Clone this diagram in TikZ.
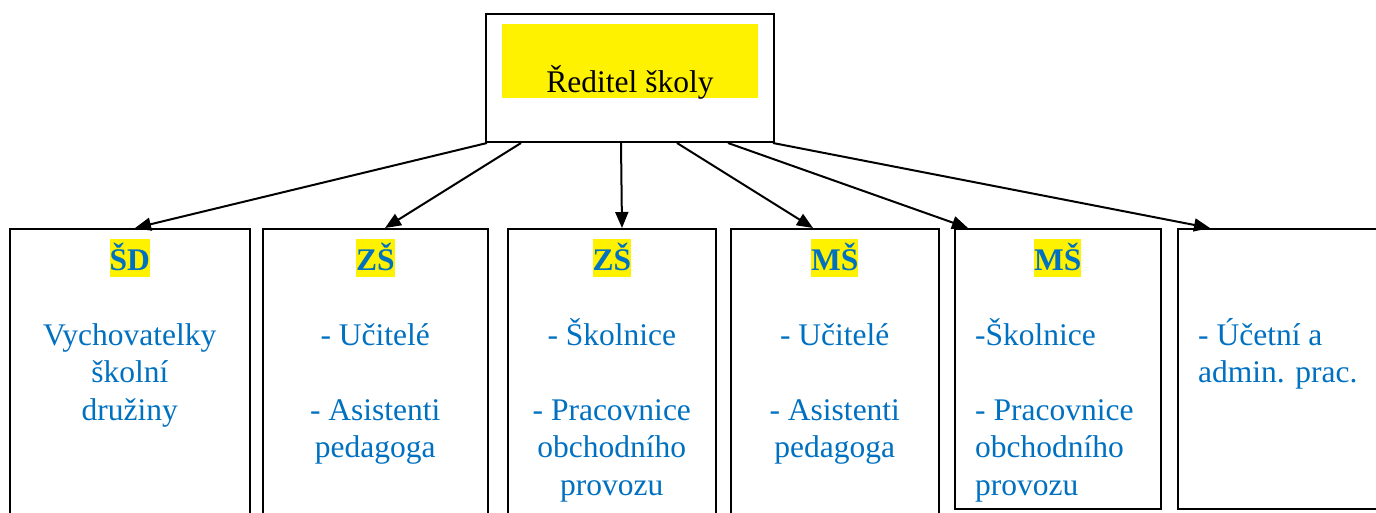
\documentclass[tikz,border=0pt]{standalone}
\usepackage{fontspec}
\setmainfont{Liberation Serif}
\usetikzlibrary{arrows.meta}
\definecolor{wordblue}{HTML}{0070C0}
\newcommand{\lineup}{\rule{0pt}{36pt}}
\begin{document}
\begin{tikzpicture}[x=1pt,y=-1pt,
	font=\fontsize{31.5pt}{37.5pt}\selectfont,
	unitbox/.style={draw,line width=1.6pt,anchor=north west,inner sep=0pt,minimum height=#1},
	unitbox/.default=320pt,
	headtag/.style={fill=yellow,text=wordblue,font=\fontsize{31.5pt}{37.5pt}\selectfont\bfseries,inner sep=0pt,text height=31pt,text depth=7pt,anchor=north},
	staff/.style={text=wordblue,inner sep=0pt,anchor=north,align=#1},
	staff/.default=center,
	arr/.style={line width=2pt,-{Triangle[length=16pt,width=13pt]}}]
	\clip (0,0) rectangle (1376,512);
	\node[draw,line width=2pt,minimum width=288pt,minimum height=128pt] (dir) at (630,78) {};
	\node[fill=yellow,inner sep=0pt,text height=68pt,text depth=6pt,minimum width=256pt,anchor=north] (dirtag) at ([yshift=-11pt]dir.north) {Ředitel školy};
	\node[unitbox,minimum width=240pt] (sd) at (9,228) {};
	\node[unitbox,minimum width=225pt] (zsa) at (262,228) {};
	\node[unitbox,minimum width=208pt] (zsb) at (507,228) {};
	\node[unitbox,minimum width=208pt] (msa) at (730,228) {};
	\node[unitbox=280pt,minimum width=206pt] (msb) at (954,228) {};
	\node[unitbox=280pt,minimum width=230pt] (ucet) at (1177,228) {};
	\node[headtag] (sdtag) at ([yshift=-11pt]sd.north) {ŠD};
	\node[headtag] (zsatag) at ([yshift=-11pt]zsa.north) {ZŠ};
	\node[headtag] (zsbtag) at ([yshift=-11pt]zsb.north) {ZŠ};
	\node[headtag] (msatag) at ([yshift=-11pt]msa.north) {MŠ};
	\node[headtag] (msbtag) at ([yshift=-11pt]msb.north) {MŠ};
	\node[staff] (sdlist) at ([yshift=-81pt]sd.north) {\lineup Vychovatelky\\školní\\družiny};
	\node[staff] (zsalist) at ([yshift=-81pt]zsa.north) {\lineup- Učitelé\\[37.5pt]- Asistenti\\pedagoga};
	\node[staff] (zsblist) at ([yshift=-81pt]zsb.north) {\lineup- Školnice\\[37.5pt]- Pracovnice\\obchodního\\provozu};
	\node[staff] (msalist) at ([yshift=-81pt]msa.north) {\lineup- Učitelé\\[37.5pt]- Asistenti\\pedagoga};
	\node[staff=left,anchor=north west] (msblist) at ([xshift=21pt,yshift=-81pt]msb.north west) {\lineup-Školnice\\[37.5pt]- Pracovnice\\obchodního\\provozu};
	\node[staff=left,anchor=north west] (ucetlist) at ([xshift=21pt,yshift=-81pt]ucet.north west) {\lineup- Účetní a\\admin. prac.};
	\foreach \s/\n/\e in {2pt/sd/126pt,36pt/zsa/123pt,136pt/zsb/115pt,192pt/msa/83pt,243pt/msb/14pt,288pt/ucet/33pt}
		\draw[arr] ([xshift=\s]dir.south west) -- ([xshift=\e]\n.north west);
\end{tikzpicture}
\end{document}
